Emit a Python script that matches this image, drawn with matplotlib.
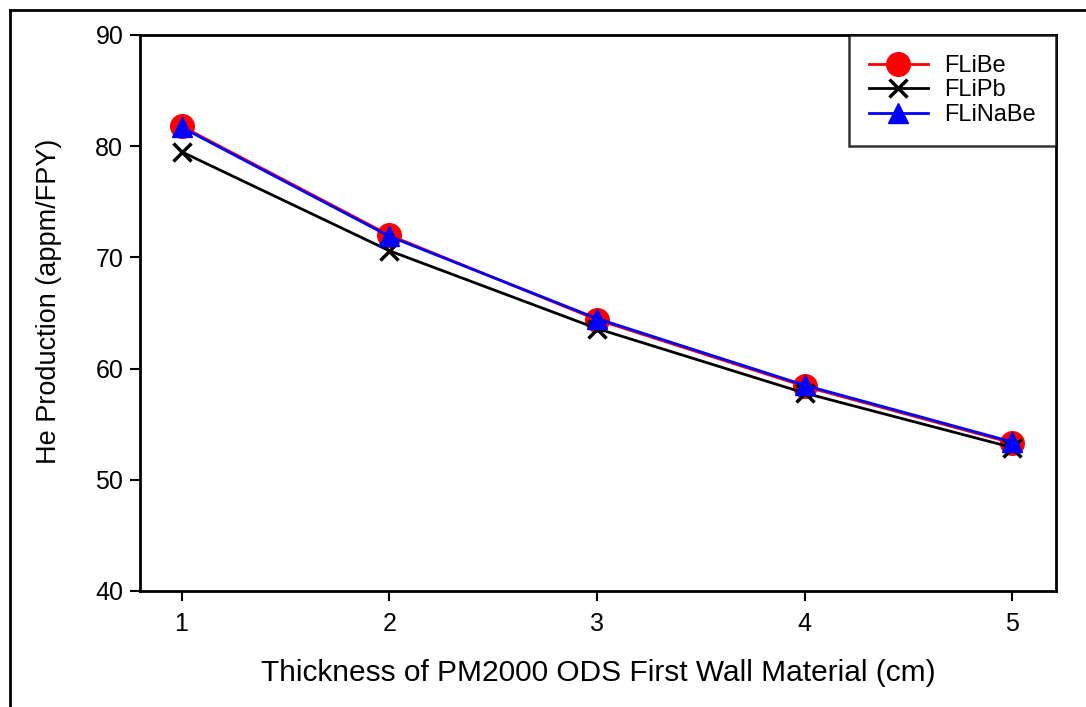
import numpy as np
from matplotlib import pyplot as plt
from matplotlib.lines import Line2D

plt.rcParams.update({'font.family': ['Liberation Sans', 'DejaVu Sans'], 'font.size': 17})

thickness = [1, 2, 3, 4, 5]
flibe = [81.8, 72.0, 64.4, 58.4, 53.3]
flipb = [79.5, 70.6, 63.6, 57.8, 52.9]
flinabe = [81.7, 71.9, 64.5, 58.5, 53.4]

fig = plt.figure(figsize=(10.86, 7.07), dpi=100)
ax = fig.add_axes([0.1289, 0.1641, 0.8435, 0.7864])

ax.plot(thickness, flibe, color='red', linewidth=2, marker='o', markersize=17, label='FLiBe')
ax.plot(thickness, flipb, color='black', linewidth=2, marker='x', markersize=13,
        markeredgewidth=2.5, label='FLiPb')
ax.plot(thickness, flinabe, color='blue', linewidth=2, marker='^', markersize=14, label='FLiNaBe')

ax.set_xlim(0.8, 5.21)
ax.set_ylim(40, 90)
ax.set_xticks(thickness)
ax.set_yticks(np.arange(40, 91, 10))
ax.tick_params(direction='out', length=7, width=1.5, labelsize=18)
ax.tick_params(axis='x', pad=8)
ax.tick_params(axis='y', pad=5)
for s in ax.spines.values():
    s.set_linewidth(2)

ax.set_xlabel("Thickness of PM2000 ODS First Wall Material (cm)", fontsize=21.5, labelpad=17)
ax.set_ylabel("He Production (appm/FPY)", fontsize=19.5)
ax.yaxis.set_label_coords(-0.085, 0.52)

leg = ax.legend(loc='upper right', handlelength=2.5, fontsize=17, fancybox=False,
                borderaxespad=0, borderpad=0.85, labelspacing=0.1, handletextpad=0.7)
leg.get_frame().set_edgecolor('black')
leg.get_frame().set_linewidth(1.8)

# outer frame (left and top)
fig.add_artist(Line2D([0.009, 0.009], [0, 0.986], color='black', linewidth=2))
fig.add_artist(Line2D([0.009, 1], [0.986, 0.986], color='black', linewidth=2))

plt.savefig("out.png", dpi=100)
